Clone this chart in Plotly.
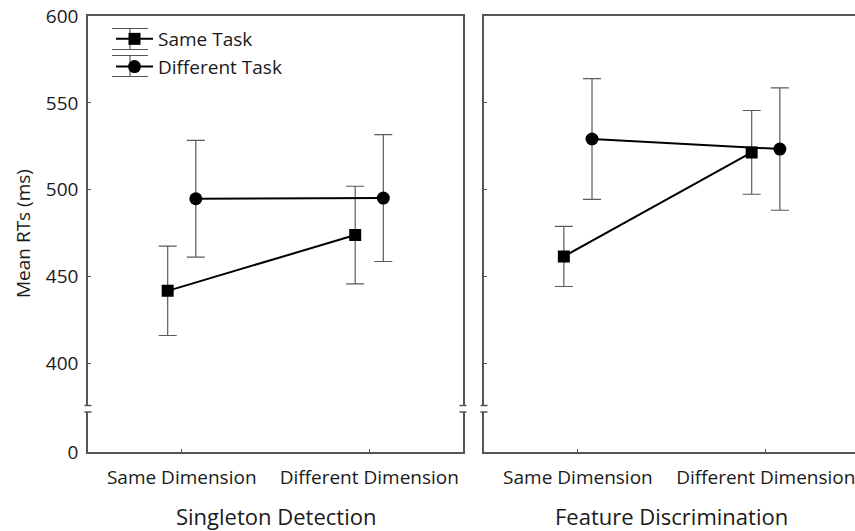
import numpy as np
import plotly.graph_objects as go

# ---------------- data ----------------
categories = ["Same Dimension", "Different Dimension"]
panels = ["Singleton Detection", "Feature Discrimination"]

sd_same_task = [441.8, 473.9]
sd_same_err = [25.7, 28.1]
sd_diff_task = [494.8, 495.2]
sd_diff_err = [33.6, 36.5]

fd_same_task = [461.6, 521.5]
fd_same_err = [17.3, 24.1]
fd_diff_task = [529.2, 523.4]
fd_diff_err = [34.8, 35.2]

y_ticks = [400, 450, 500, 550, 600]
series_names = ["Same Task", "Different Task"]

# ---------------- style ----------------
FONT = "Open Sans"
TXT = "#1a1a1a"
AX = "#555555"
ERR = "#5a5a5a"
W, H = 855, 531
ML, MR, MT, MB = 88, 0, 16, 79
PW = W - ML - MR
PH = H - MT - MB

def px_x(p):
    return (p - ML) / PW

def px_y(p):
    return (H - MB - p) / PH

dodge = 0.075
xpos = np.arange(len(categories))

fig = go.Figure()

panel_data = [
    (sd_same_task, sd_same_err, sd_diff_task, sd_diff_err, "x", "y", "x3", "y3"),
    (fd_same_task, fd_same_err, fd_diff_task, fd_diff_err, "x2", "y2", "x4", "y4"),
]

for i, (st, se, dt, de, xa, ya, xl, yl) in enumerate(panel_data):
    fig.add_trace(go.Scatter(
        x=xpos - dodge, y=st, name=series_names[0], mode="lines+markers",
        xaxis=xa, yaxis=ya, showlegend=(i == 0), legendrank=1,
        line=dict(color="black", width=2),
        marker=dict(symbol="square", size=12, color="black"),
        error_y=dict(type="data", array=se, visible=True, color=ERR, thickness=1.2, width=9),
    ))
    fig.add_trace(go.Scatter(
        x=xpos + dodge, y=dt, name=series_names[1], mode="lines+markers",
        xaxis=xa, yaxis=ya, showlegend=(i == 0), legendrank=2,
        line=dict(color="black", width=2),
        marker=dict(symbol="circle", size=13, color="black"),
        error_y=dict(type="data", array=de, visible=True, color=ERR, thickness=1.2, width=9),
    ))
    # empty trace so the lower (broken) axis exists
    fig.add_trace(go.Scatter(x=[], y=[], xaxis=xl, yaxis=yl, showlegend=False, hoverinfo="skip"))

left_dom = [0, px_x(463)]
right_dom = [px_x(484), 1]
upper_dom = [px_y(405.5), 1]
lower_dom = [0, px_y(412)]

yr_upper = [375.8, 600]
xr_left = [-0.5, 1.5]
xr_right = [-0.5, 1.475]

common_ticks = dict(tickfont=dict(family=FONT, size=19, color=TXT))

fig.update_layout(
    width=W, height=H,
    margin=dict(l=ML, r=MR, t=MT, b=MB),
    paper_bgcolor="white", plot_bgcolor="white",
    font=dict(family=FONT, color=TXT),
    showlegend=True,
    legend=dict(
        x=px_x(111), y=px_y(20), xanchor="left", yanchor="top",
        bgcolor="rgba(0,0,0,0)", font=dict(family=FONT, size=19, color=TXT),
        tracegroupgap=0, itemwidth=37,
    ),
    # upper axes (top border only)
    xaxis=dict(domain=left_dom, range=xr_left, anchor="y", side="top", showline=True,
               linecolor=AX, linewidth=1.5, showticklabels=False, ticks="",
               showgrid=False, zeroline=False),
    xaxis2=dict(domain=right_dom, range=xr_right, anchor="y2", side="top", showline=True,
                linecolor=AX, linewidth=1.5, showticklabels=False, ticks="",
                showgrid=False, zeroline=False),
    yaxis=dict(domain=upper_dom, range=yr_upper, anchor="x", tickvals=y_ticks,
               ticks="inside", ticklen=3, tickcolor=AX, showline=True, mirror=True,
               linecolor=AX, linewidth=1.5, showgrid=False, zeroline=False,
               ticklabelstandoff=4, **common_ticks),
    yaxis2=dict(domain=upper_dom, range=yr_upper, anchor="x2", tickvals=y_ticks,
                ticks="inside", ticklen=3, tickcolor=AX, showline=True, mirror=False,
                linecolor=AX, linewidth=1.5, showgrid=False, zeroline=False,
                showticklabels=False),
    # lower axes
    xaxis3=dict(domain=left_dom, range=xr_left, anchor="y3", tickvals=list(xpos),
                ticktext=categories, ticks="inside", ticklen=3, tickcolor=AX,
                showline=True, linecolor=AX, linewidth=1.5, showgrid=False,
                zeroline=False, ticklabelstandoff=7, ticklabeloverflow="allow",
                **common_ticks),
    xaxis4=dict(domain=right_dom, range=xr_right, anchor="y4", tickvals=list(xpos),
                ticktext=categories, ticks="inside", ticklen=3, tickcolor=AX,
                showline=True, linecolor=AX, linewidth=1.5, showgrid=False,
                zeroline=False, ticklabelstandoff=7, ticklabeloverflow="allow",
                **common_ticks),
    yaxis3=dict(domain=lower_dom, range=[0, 10], anchor="x3", tickvals=[0],
                ticks="", showline=True, mirror=True, linecolor=AX, linewidth=1.5,
                showgrid=False, zeroline=False, ticklabelstandoff=4, **common_ticks),
    yaxis4=dict(domain=lower_dom, range=[0, 10], anchor="x4", tickvals=[0],
                ticks="", showline=True, mirror=False, linecolor=AX, linewidth=1.5,
                showgrid=False, zeroline=False, showticklabels=False),
)

# axis-break marks
shapes = []
def brk(xref, xa, yref, ya):
    shapes.append(dict(type="line", xref=xref, yref=yref, xsizemode="pixel", xanchor=xa,
                       x0=-3.5, x1=3.5, y0=ya, y1=ya, line=dict(color=AX, width=1.5)))
for xr, yu, yl2, sides in [("x domain", "y domain", "y3 domain", [0, 1]),
                           ("x2 domain", "y2 domain", "y4 domain", [0])]:
    for s in sides:
        brk(xr, s, yu, 0)
        brk(xr, s, yl2, 1)

# error-bar glyphs in the legend (caps above/below each legend symbol + vertical stem)
for cy in (39, 66):
    for dy in (-10.5, 10.5):
        shapes.append(dict(type="line", xref="paper", yref="paper",
                           x0=px_x(112), x1=px_x(148), y0=px_y(cy + dy), y1=px_y(cy + dy),
                           line=dict(color=AX, width=1.2)))
    shapes.append(dict(type="line", xref="paper", yref="paper",
                       x0=px_x(130), x1=px_x(130), y0=px_y(cy - 10.5), y1=px_y(cy + 10.5),
                       line=dict(color=AX, width=1.2), layer="below"))
fig.update_layout(shapes=shapes)

# panel titles and y-axis title
right_center = (0.5 - xr_right[0]) / (xr_right[1] - xr_right[0])
annotations = [
    dict(text=panels[0], xref="x3 domain", x=0.5, yref="paper", y=px_y(516),
         showarrow=False, xanchor="center", yanchor="middle", borderpad=0,
         font=dict(family=FONT, size=22, color=TXT)),
    dict(text=panels[1], xref="x4 domain", x=right_center, yref="paper", y=px_y(516),
         showarrow=False, xanchor="center", yanchor="middle", borderpad=0,
         font=dict(family=FONT, size=22, color=TXT)),
    dict(text="Mean RTs (ms)", xref="paper", x=px_x(23), yref="paper", y=px_y(234),
         showarrow=False, xanchor="center", yanchor="middle", textangle=-90,
         font=dict(family=FONT, size=19, color=TXT)),
]
fig.update_layout(annotations=annotations)

fig.write_html("out.html", config={"displayModeBar": False},
               post_script="document.body.style.margin='0px';document.body.style.overflow='hidden';")
